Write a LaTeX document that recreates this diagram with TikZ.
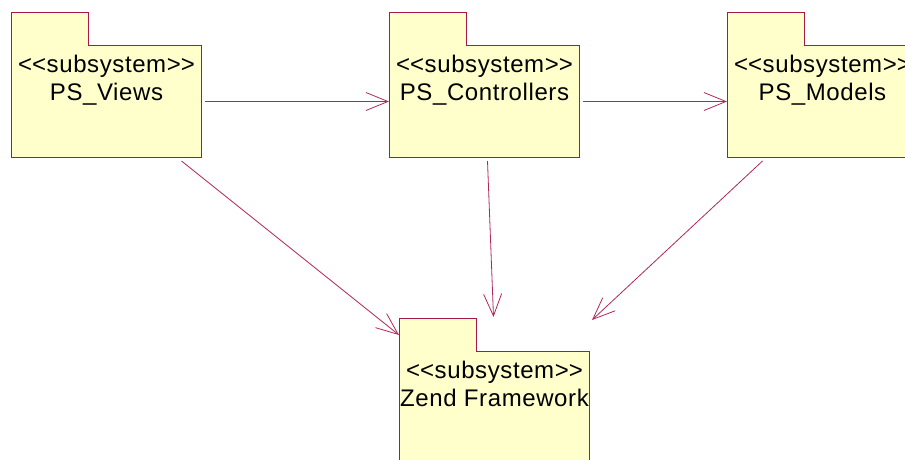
\documentclass[tikz,border=0pt]{standalone}
\usepackage{fontspec}
\newfontfamily\umlfont{Liberation Sans}[LetterSpace=2.5]
\usetikzlibrary{arrows.meta,calc}
\definecolor{pkgfill}{RGB}{255,255,204}
\definecolor{pkgline}{RGB}{165,25,75}
\definecolor{depcol}{RGB}{175,40,90}
\newcommand\umlpkg[4]{%
  \node[pkgtab] (#1tab) at (#2,#3) {};
  \node[pkgbody] (#1) at (#2,#3+33) {};
  \fill[pkgfill] ($(#1tab.south west)+(0.6,-0.7)$) rectangle ($(#1tab.south east)+(-0.6,0.7)$);
  \node[pkglbl] (#1st) at ($(#1.north)+(0,27)$) {<\kern0pt<subsystem>\kern0pt>};
  \node[pkglbl] (#1nm) at ($(#1.north)+(0,55)$) {#4};
}
\begin{document}
\begin{tikzpicture}[x=1pt,y=-1pt,
  pkgbody/.style={draw=pkgline, fill=pkgfill, line width=1pt, minimum width=190pt, minimum height=112pt, inner sep=0pt, anchor=north west},
  pkgtab/.style={draw=pkgline, fill=pkgfill, line width=1pt, minimum width=77pt, minimum height=33pt, inner sep=0pt, anchor=north west},
  pkglbl/.style={font=\umlfont\fontsize{24}{28}\selectfont, anchor=base, inner sep=0pt},
  dep/.style={draw=depcol, line width=0.8pt, -{Straight Barb[length=22pt,width=18pt]}}]
\clip (0,0) rectangle (905,459);
\umlpkg{views}{11}{12}{PS\_Views}
\umlpkg{ctrl}{389}{12}{PS\_Controllers}
\umlpkg{models}{727}{12}{PS\_Models}
\umlpkg{zend}{399}{318}{Zend Framework}
\draw[dep] ($(views.east)+(3,0)$) -- (ctrl.west);
\draw[dep] ($(ctrl.east)+(3,0)$) -- (models.west);
\draw[dep] ($(views.south)+(75,3)$) -- (zendtab.west);
\draw[dep] ($(ctrl.south)+(3,3)$) -- ($(zend.north)+(-1,-34)$);
\draw[dep] ($(models.south)+(-60,3)$) -- ($(zend.north east)+(2,-31)$);
\end{tikzpicture}
\end{document}
